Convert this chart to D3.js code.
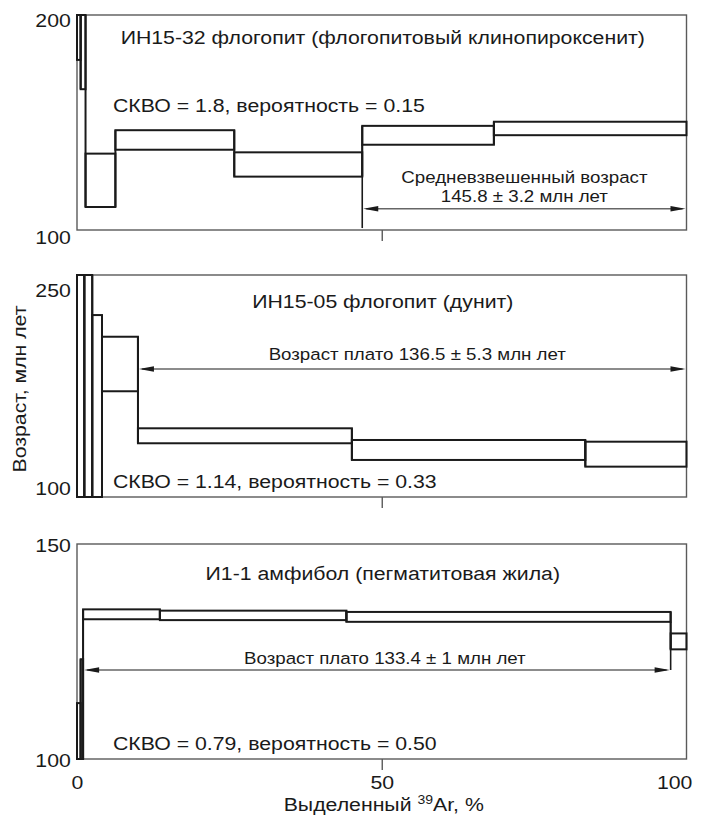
<!DOCTYPE html>
<html>
<head>
<meta charset="utf-8">
<script src="https://cdn.jsdelivr.net/npm/d3@7"></script>
<style>
  body { margin: 0; background: #fff; }
  svg { display: block; }
  text { font-family: "Liberation Sans", Arial, Helvetica, sans-serif; fill: #1a1a1a; }
</style>
</head>
<body>
<svg id="chart" width="703" height="817"></svg>
<script>
// ---- data ----
// x: released 39Ar, %; y: age, Ma (high / low edge of each step box)
const xTicks = [0, 50, 100];
const xTitle = ["Выделенный ", "39", "Ar, %"];
const yTitle = "Возраст, млн лет";

// panel 1: ИН15-32
const p1Title = "ИН15-32 флогопит (флогопитовый клинопироксенит)";
const p1Stat = "СКВО = 1.8, вероятность = 0.15";
const p1Note = ["Средневзвешенный возраст", "145.8 ± 3.2 млн лет"];
const p1Domain = [103.2, 202.3];
const p1Ticks = [100, 200];
const p1From = [0, 0.6, 1.4, 6.3, 25.8, 46.8, 68.4];
const p1To = [0.6, 1.4, 6.3, 25.8, 46.8, 68.4, 100];
const p1High = [202.3, 202.3, 138.4, 149.2, 139.0, 151.2, 153.1];
const p1Low = [181.6, 168.1, 113.8, 140.2, 127.8, 142.5, 146.9];
const p1Plateau = [46.8, 100, 113.0, 104.1]; // from, to, arrow level, end-line bottom

// panel 2: ИН15-05
const p2Title = "ИН15-05 флогопит (дунит)";
const p2Stat = "СКВО = 1.14, вероятность = 0.33";
const p2Note = ["Возраст плато 136.5 ± 5.3 млн лет"];
const p2Domain = [92.4, 261.4];
const p2Ticks = [100, 250];
const p2From = [0, 1.2, 2.5, 4.1, 10.0, 45.1, 83.4];
const p2To = [1.2, 2.5, 4.1, 10.0, 45.1, 83.4, 100];
const p2High = [261.4, 261.4, 230.9, 214.4, 144.7, 135.8, 134.5];
const p2Low = [92.4, 92.4, 92.4, 172.9, 133.3, 120.6, 115.5];
const p2Plateau = [10.0, 100, 189.8, 189.8];

// panel 3: И1-1
const p3Title = "И1-1 амфибол (пегматитовая жила)";
const p3Stat = "СКВО = 0.79, вероятность = 0.50";
const p3Note = ["Возраст плато 133.4 ± 1 млн лет"];
const p3Domain = [100, 150];
const p3Ticks = [100, 150];
const p3From = [0, 0.6, 1.0, 13.6, 44.2, 97.4];
const p3To = [0.6, 1.0, 13.6, 44.2, 97.4, 100];
const p3High = [113.0, 123.2, 134.8, 134.5, 134.2, 129.2];
const p3Low = [100, 100, 132.5, 132.3, 131.9, 125.5];
const p3Plateau = [1.0, 97.4, 120.7, 120.7];

// ---- layout ----
const SX = 1.12; // the lettering in the figure is a little wide
const svg = d3.select("#chart");
const x = d3.scaleLinear().domain([0, 100]).range([77, 686.5]);

const panels = [
  { from: p1From, to: p1To, high: p1High, low: p1Low, domain: p1Domain, ticks: p1Ticks,
    title: p1Title, stat: p1Stat, note: p1Note, plateau: p1Plateau,
    top: 15, bottom: 230, titleY: 44, statY: 111.5, noteDy: [-25.4, -7], noteDx: 0 },
  { from: p2From, to: p2To, high: p2High, low: p2Low, domain: p2Domain, ticks: p2Ticks,
    title: p2Title, stat: p2Stat, note: p2Note, plateau: p2Plateau,
    top: 275, bottom: 497, titleY: 307.5, statY: 487.5, noteDy: [-9], noteDx: 5 },
  { from: p3From, to: p3To, high: p3High, low: p3Low, domain: p3Domain, ticks: p3Ticks,
    title: p3Title, stat: p3Stat, note: p3Note, plateau: p3Plateau,
    top: 544, bottom: 759, titleY: 579.5, statY: 749.5, noteDy: [-6], noteDx: 8 }
];

function label(g, px, py, s, size, anchor) {
  return g.append("text")
    .attr("transform", `translate(${px},${py}) scale(${SX},1)`)
    .attr("text-anchor", anchor || "start")
    .style("font-size", size + "px")
    .text(s);
}

function arrowHead(g, tipX, yy, dir) {
  // dir = +1 points right, -1 points left
  const len = 15, hw = 2.8;
  g.append("path")
    .attr("d", `M${tipX},${yy} L${tipX - dir * len},${yy - hw} L${tipX - dir * len},${yy + hw} Z`)
    .attr("fill", "#1a1a1a");
}

panels.forEach(p => {
  const g = svg.append("g");
  const y = d3.scaleLinear().domain(p.domain).range([p.bottom, p.top]);
  const yc = v => y(Math.max(p.domain[0], Math.min(p.domain[1], v)));

  // frame
  g.append("rect")
    .attr("x", x(0)).attr("y", p.top)
    .attr("width", x(100) - x(0)).attr("height", p.bottom - p.top)
    .attr("fill", "none").attr("stroke", "#5a5a5a").attr("stroke-width", 1.4);

  // y tick labels
  const yAxis = g.append("g")
    .attr("transform", `translate(${x(0)},0)`)
    .call(d3.axisLeft(y).tickValues(p.ticks).tickSize(0).tickPadding(5.5));
  yAxis.select(".domain").remove();
  yAxis.selectAll("text")
    .style("font-size", "19px")
    .style("font-family", "'Liberation Sans', Arial, sans-serif")
    .attr("fill", "#1a1a1a")
    .attr("dy", null)
    .attr("y", 7)
    .attr("transform", `scale(${SX},1)`);

  // 50 % tick below the frame
  const xt = g.append("g")
    .attr("transform", `translate(0,${p.bottom})`)
    .call(d3.axisBottom(x).tickValues([50]).tickSize(11).tickFormat(""));
  xt.select(".domain").remove();
  xt.selectAll("line").attr("stroke", "#5a5a5a").attr("stroke-width", 1.4);

  // connectors between neighbouring steps
  const n = p.from.length;
  for (let i = 0; i < n - 1; i++) {
    g.append("line")
      .attr("x1", x(p.to[i])).attr("x2", x(p.to[i]))
      .attr("y1", yc(Math.max(p.high[i], p.high[i + 1])))
      .attr("y2", yc(Math.min(p.low[i], p.low[i + 1])))
      .attr("stroke", "#1a1a1a").attr("stroke-width", 2);
  }

  // step boxes
  g.selectAll("rect.step")
    .data(d3.range(n))
    .enter().append("rect")
    .attr("class", "step")
    .attr("x", i => x(p.from[i]))
    .attr("width", i => x(p.to[i]) - x(p.from[i]))
    .attr("y", i => yc(p.high[i]))
    .attr("height", i => yc(p.low[i]) - yc(p.high[i]))
    .attr("fill", "none")
    .attr("stroke", "#1a1a1a")
    .attr("stroke-width", 2);

  // plateau / weighted mean arrow
  const [pf, pt, lvl, bot] = p.plateau;
  const ay = y(lvl);
  const iStart = p.from.indexOf(pf);
  const iEnd = p.to.indexOf(pt);
  if (pf > 0) {
    g.append("line")
      .attr("x1", x(pf)).attr("x2", x(pf))
      .attr("y1", y(Math.min(bot, lvl))).attr("y2", yc(p.low[iStart]))
      .attr("stroke", "#1a1a1a").attr("stroke-width", 1.6);
  }
  if (pt < 100) {
    g.append("line")
      .attr("x1", x(pt)).attr("x2", x(pt))
      .attr("y1", y(Math.min(bot, lvl))).attr("y2", yc(p.low[iEnd]))
      .attr("stroke", "#1a1a1a").attr("stroke-width", 1.6);
  }
  g.append("line")
    .attr("x1", x(pf) + 4).attr("x2", x(pt) - 4)
    .attr("y1", ay).attr("y2", ay)
    .attr("stroke", "#666").attr("stroke-width", 1.5);
  arrowHead(g, x(pf) + 1, ay, -1);
  arrowHead(g, x(pt) - 1, ay, 1);

  const cx = (x(pf) + x(pt)) / 2 + p.noteDx;
  p.note.forEach((s, k) => label(g, cx, ay + p.noteDy[k], s, 16.7, "middle"));

  // title and statistics
  label(g, x(50) + 1, p.titleY, p.title, 19, "middle");
  label(g, 113, p.statY, p.stat, 19, "start");
});

// x axis labels under the last panel
const xa = svg.append("g")
  .attr("transform", `translate(0,${panels[2].bottom})`)
  .call(d3.axisBottom(x).tickValues(xTicks).tickSize(0).tickPadding(16.5));
xa.select(".domain").remove();
xa.selectAll("text")
  .style("font-size", "19px")
  .style("font-family", "'Liberation Sans', Arial, sans-serif")
  .attr("fill", "#1a1a1a")
  .attr("transform", `scale(${SX},1)`)
  .filter(d => d === 100).attr("dx", -11);

// axis titles
const xt = svg.append("text")
  .attr("transform", `translate(${x(50) + 2},810.5) scale(${SX},1)`)
  .attr("text-anchor", "middle")
  .style("font-size", "19px");
xt.append("tspan").text(xTitle[0]);
xt.append("tspan").attr("dy", -7).style("font-size", "12.5px").text(xTitle[1]);
xt.append("tspan").attr("dy", 7).text(xTitle[2]);

svg.append("text")
  .attr("transform", `translate(26,389) rotate(-90) scale(${SX},1)`)
  .attr("text-anchor", "middle")
  .style("font-size", "19px")
  .text(yTitle);
</script>
</body>
</html>
